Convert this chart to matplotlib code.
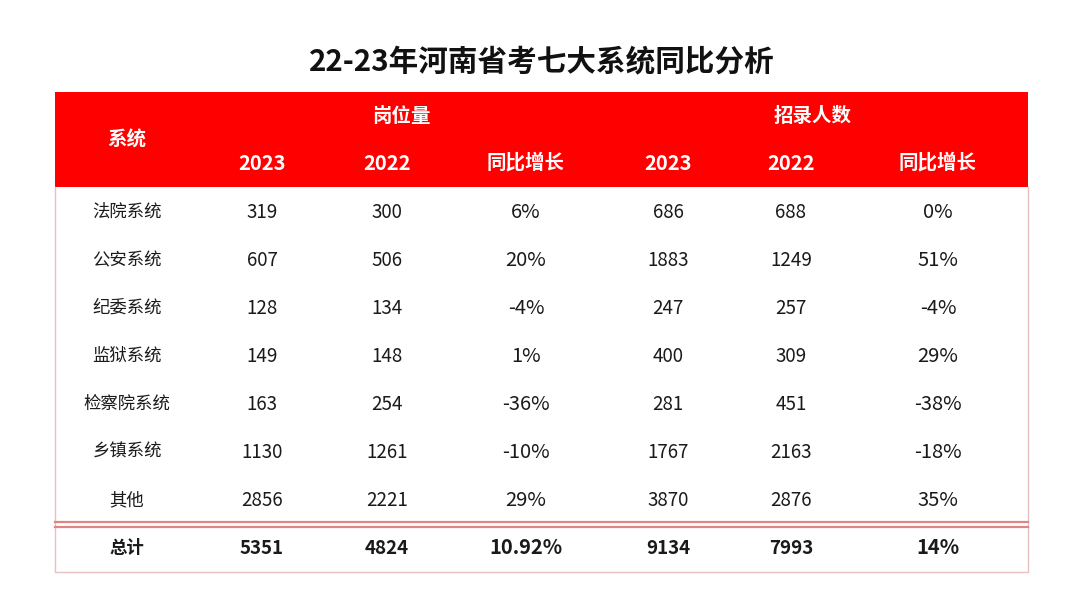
import matplotlib
matplotlib.use("Agg")
import matplotlib.pyplot as plt
from matplotlib.patches import Rectangle

plt.rcParams['font.family'] = ['Noto Sans CJK SC', 'DejaVu Sans']

title = "22-23年河南省考七大系统同比分析"
systems = ["法院系统", "公安系统", "纪委系统", "监狱系统", "检察院系统", "乡镇系统", "其他"]
posts_2023 = [319, 607, 128, 149, 163, 1130, 2856]
posts_2022 = [300, 506, 134, 148, 254, 1261, 2221]
posts_yoy = ["6%", "20%", "-4%", "1%", "-36%", "-10%", "29%"]
hires_2023 = [686, 1883, 247, 400, 281, 1767, 3870]
hires_2022 = [688, 1249, 257, 309, 451, 2163, 2876]
hires_yoy = ["0%", "51%", "-4%", "29%", "-38%", "-18%", "35%"]
total_label = "总计"
total_values = ["5351", "4824", "10.92%", "9134", "7993", "14%"]
group_labels = ["岗位量", "招录人数"]
sub_headers = ["2023", "2022", "同比增长", "2023", "2022", "同比增长"]
first_header = "系统"

fig = plt.figure(figsize=(10.8, 6.08), dpi=100)
ax = fig.add_axes([0, 0, 1, 1])
ax.set_xlim(0, 1080)
ax.set_ylim(608, 0)
ax.axis('off')

left, right = 55, 1028
top, head_bot = 92, 187
row_h = 48
bottom = 572
col_x = [127, 262, 387, 526, 668, 791, 938]
txt = '#1a1a1a'

ax.text(542, 62, title, ha='center', va='center', fontsize=21.3, fontweight='bold', color='#111111')

# header
ax.add_patch(Rectangle((left, top), right - left, head_bot - top, facecolor='#ff0000', edgecolor='none'))
ax.text(col_x[0], 140, first_header, ha='center', va='center', fontsize=14, fontweight='bold', color='white')
ax.text(401, 116, group_labels[0], ha='center', va='center', fontsize=14, fontweight='bold', color='white')
ax.text(813, 116, group_labels[1], ha='center', va='center', fontsize=14, fontweight='bold', color='white')
for cx, s in zip(col_x[1:], sub_headers):
    fs = 14.5 if s.isdigit() else 14
    ax.text(cx, 163, s, ha='center', va='center', fontsize=fs, fontweight='bold', color='white')

# body border
border = '#e8c0c0'
ax.plot([left, left, right, right], [head_bot, bottom, bottom, head_bot], color=border, lw=1.0)

rows = list(zip(systems, posts_2023, posts_2022, posts_yoy, hires_2023, hires_2022, hires_yoy))
for i, r in enumerate(rows):
    cy = 212 + row_h * i
    for j, (cx, v) in enumerate(zip(col_x, r)):
        if j == 0:
            fs = 12.5
        elif j in (3, 6):
            fs = 14.5
        else:
            fs = 13.5
        ax.text(cx, cy, str(v), ha='center', va='center', fontsize=fs, color=txt)

# double line above total
ax.plot([left, right], [522, 522], color='#e08585', lw=1.6)
ax.plot([left, right], [526.5, 526.5], color='#e08585', lw=1.6)

cy = 548
ax.text(col_x[0], cy, total_label, ha='center', va='center', fontsize=12.5, fontweight='bold', color=txt)
for cx, v in zip(col_x[1:], total_values):
    fs = 14.5 if '%' in v else 13.5
    ax.text(cx, cy, v, ha='center', va='center', fontsize=fs, fontweight='bold', color=txt)

fig.savefig('out.png', dpi=100, facecolor='white')
